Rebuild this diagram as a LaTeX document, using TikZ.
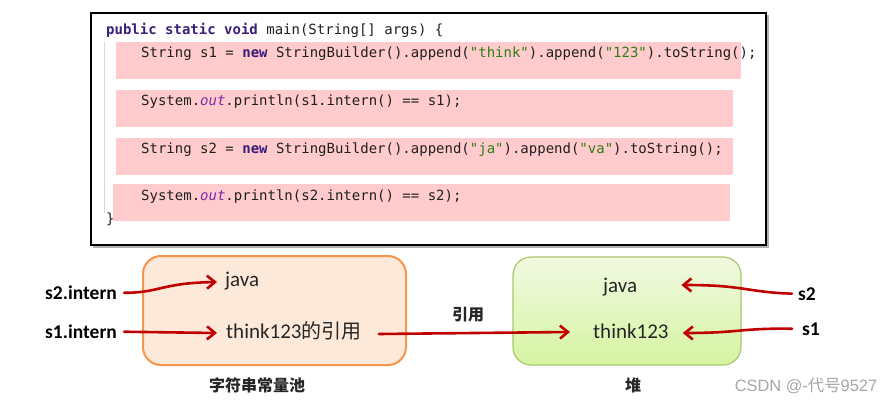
\documentclass[tikz,border=0pt]{standalone}
\usepackage{fontspec}
\usetikzlibrary{arrows.meta}
\setmainfont{Carlito}
\newfontfamily\cjk{Noto Sans CJK SC}
\newfontfamily\codefont{DejaVu Sans Mono}
\newfontfamily\wmfont{Liberation Sans}
\definecolor{codec}{HTML}{202020}
\definecolor{kwc}{HTML}{3A1E78}
\definecolor{strc}{HTML}{2E7D12}
\definecolor{fldc}{HTML}{7A2AA6}
\definecolor{bandc}{HTML}{FFCBCC}
\definecolor{guidec}{HTML}{D8D8D8}
\definecolor{arrred}{HTML}{C00000}
\definecolor{poolfill}{HTML}{FDE9DA}
\definecolor{pooldraw}{HTML}{F7964A}
\definecolor{heaptop}{HTML}{F1F9E1}
\definecolor{heapbot}{HTML}{D5F4A2}
\definecolor{heapdraw}{HTML}{A9C66E}
\definecolor{wmc}{HTML}{A6A6A6}
\newcommand\kwd[1]{{\color{kwc}\bfseries #1}}
\newcommand\strl[1]{{\color{strc}#1}}
\newcommand\fld[1]{{\color{fldc}\itshape #1}}
\tikzset{
  codeline/.style={inner sep=0pt, anchor=base west, text=codec, font=\codefont\fontsize{14.0}{17}\selectfont},
  band/.style={fill=bandc},
  cell/.style={inner sep=0pt, anchor=base west, text=black!85, font=\fontsize{21}{25}\selectfont},
  varlbl/.style={inner sep=0pt, anchor=base west, text=black, font=\bfseries\fontsize{19.5}{23}\selectfont},
  capt/.style={inner sep=0pt, text=black!85, font=\cjk\bfseries\fontsize{16}{19}\selectfont},
  refarrow/.style={draw=arrred, line width=2.6pt, line cap=round, -{Straight Barb[length=8pt,width=13pt]}},
}
\begin{document}
\begin{tikzpicture}[x=1pt,y=-1pt]
\useasboundingbox (0,0) rectangle (892,404);
% code box
\fill[black!30] (93,15) rectangle (769,248);
\filldraw[fill=white, draw=black, line width=2pt] (91,13) rectangle (766,245);
\draw[guidec, line width=0.8pt] (104,42) -- (104,213);
\fill[band] (116,42) rectangle (741,79);
\fill[band] (116,90) rectangle (733,127);
\fill[band] (116,138) rectangle (733,175);
\fill[band] (113,184) rectangle (730,221);
\node[codeline] (c0) at (106,34.5) {\kwd{public static void} main(String[] args) \{};
\node[codeline] (c1) at (141,57.5) {String s1 = \kwd{new} StringBuilder().append(\strl{"think"}).append(\strl{"123"}).toString();};
\node[codeline] (c2) at (141,105.5) {System.\fld{out}.println(s1.intern() == s1);};
\node[codeline] (c3) at (141,153) {String s2 = \kwd{new} StringBuilder().append(\strl{"ja"}).append(\strl{"va"}).toString();};
\node[codeline] (c4) at (141,200.5) {System.\fld{out}.println(s2.intern() == s2);};
\node[codeline] (c5) at (106,223) {\}};
% string pool
\filldraw[fill=poolfill, draw=pooldraw, line width=2pt, rounded corners=18pt] (143,256) rectangle (406,365);
\node[cell] (javaL) at (225,286) {java};
\node[cell] (thinkL) at (226,338) {think123{\cjk\fontsize{20}{24}\selectfont 的引用}};
\node[capt] (pool) at (257,385) {字符串常量池};
% heap
\draw[heapdraw, line width=1.2pt, rounded corners=18pt, top color=heaptop, bottom color=heapbot] (513,257) rectangle (741,365);
\node[cell] (javaR) at (603,292) {java};
\node[cell] (thinkR) at (593,338) {think123};
\node[capt] (heap) at (633,385) {堆};
% variable labels
\node[varlbl] (s2i) at (45,299.5) {s2.intern};
\node[varlbl] (s1i) at (45,338.5) {s1.intern};
\node[varlbl] (s2) at (798,300) {s2};
\node[varlbl] (s1) at (802,335) {s1};
\node[capt] (ref) at (468,315) {引用};
% arrows
\draw[refarrow] ([xshift=7pt]s2i.east) .. controls (160,293) and (160,283) .. ([xshift=-8pt,yshift=4pt]javaL.base west);
\draw[refarrow] ([xshift=7pt]s1i.east) -- ([xshift=-9pt,yshift=5pt]thinkL.base west);
\draw[refarrow] ([xshift=17pt,yshift=4pt]thinkL.base east) -- ([xshift=-23pt,yshift=6pt]thinkR.base west);
\draw[refarrow] ([xshift=-6pt]s2.west) .. controls (745,292) and (745,285) .. ([xshift=44pt,yshift=7pt]javaR.base east);
\draw[refarrow] ([xshift=-10pt]s1.west) .. controls (740,328) and (740,333) .. ([xshift=14pt,yshift=5pt]thinkR.base east);
% watermark
\node[inner sep=0pt, text=wmc, font=\wmfont\fontsize{16.4}{19}\selectfont] (wm) at (806,386) {CSDN @-{\cjk 代号}9527};
\end{tikzpicture}
\end{document}
